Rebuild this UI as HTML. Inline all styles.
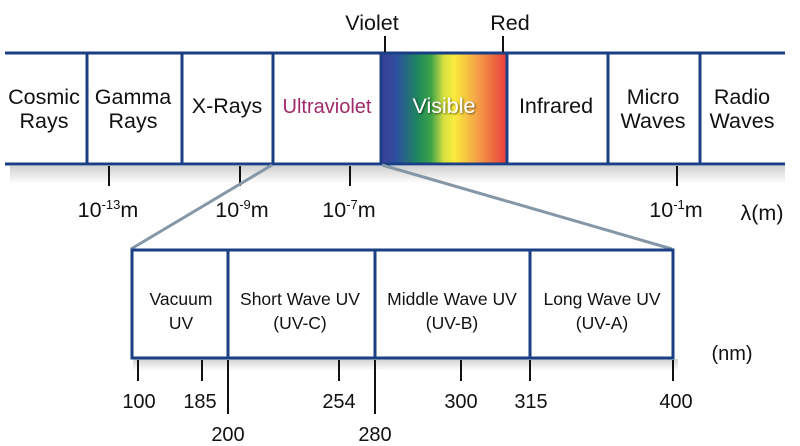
<!DOCTYPE html>
<html><head><meta charset="utf-8"><style>
html,body{margin:0;padding:0;background:#fff;}
svg{display:block;font-family:"Liberation Sans",sans-serif;}
</style></head><body>
<svg width="800" height="446" viewBox="0 0 800 446" xmlns="http://www.w3.org/2000/svg">
<defs>
<linearGradient id="vis" x1="0" x2="1" y1="0" y2="0">
<stop offset="0" stop-color="#3a3e95"/>
<stop offset="0.12" stop-color="#2d4fa0"/>
<stop offset="0.3" stop-color="#1f8a5a"/>
<stop offset="0.4" stop-color="#3fa548"/>
<stop offset="0.5" stop-color="#d8e040"/>
<stop offset="0.58" stop-color="#f9ec3c"/>
<stop offset="0.75" stop-color="#f5a646"/>
<stop offset="1" stop-color="#e83c3c"/>
</linearGradient>
<linearGradient id="sh" x1="0" x2="0" y1="0" y2="1">
<stop offset="0" stop-color="#000" stop-opacity="0.18"/>
<stop offset="1" stop-color="#000" stop-opacity="0"/>
</linearGradient>
<filter id="ts"><feDropShadow dx="1" dy="1" stdDeviation="1" flood-color="#000" flood-opacity="0.6"/></filter>
</defs>
<rect x="10" y="166" width="775" height="18" fill="url(#sh)"/>
<rect x="133" y="359" width="545" height="12" fill="url(#sh)"/>
<rect x="381" y="53" width="126" height="110" fill="url(#vis)"/>
<g stroke="#1a3f85" stroke-width="3" fill="none">
<line x1="5" y1="53" x2="785" y2="53"/>
<line x1="5" y1="164" x2="785" y2="164"/>
<line x1="87" y1="53" x2="87" y2="164"/>
<line x1="182" y1="53" x2="182" y2="164"/>
<line x1="273" y1="53" x2="273" y2="164"/>
<line x1="381" y1="53" x2="381" y2="164"/>
<line x1="507" y1="53" x2="507" y2="164"/>
<line x1="608" y1="53" x2="608" y2="164"/>
<line x1="700" y1="53" x2="700" y2="164"/>
</g>
<g stroke="#111" stroke-width="2">
<line x1="385" y1="36" x2="385" y2="52"/>
<line x1="503" y1="36" x2="503" y2="52"/>
<line x1="109" y1="166" x2="109" y2="186"/>
<line x1="240" y1="166" x2="240" y2="186"/>
<line x1="350" y1="166" x2="350" y2="186"/>
<line x1="677" y1="166" x2="677" y2="186"/>
</g>
<g stroke="#8597a6" stroke-width="3">
<line x1="272" y1="165" x2="131" y2="249"/>
<line x1="382" y1="165" x2="672" y2="249"/>
</g>
<g font-size="21.5" fill="#111" text-anchor="middle">
<text x="372" y="30">Violet</text>
<text x="510" y="30">Red</text>
<text x="44" y="104">Cosmic</text><text x="44" y="128">Rays</text>
<text x="133" y="104">Gamma</text><text x="133" y="128">Rays</text>
<text x="227" y="113">X-Rays</text>
<text x="327" y="113" fill="#a02a6a" font-size="20">Ultraviolet</text>
<text x="444" y="113" fill="#fff" filter="url(#ts)">Visible</text>
<text x="556" y="113">Infrared</text>
<text x="653" y="104">Micro</text><text x="653" y="128">Waves</text>
<text x="742" y="104">Radio</text><text x="742" y="128">Waves</text>
<text x="108" y="217">10<tspan font-size="13" dy="-8">-13</tspan><tspan dy="8">m</tspan></text>
<text x="242" y="217">10<tspan font-size="13" dy="-8">-9</tspan><tspan dy="8">m</tspan></text>
<text x="349" y="217">10<tspan font-size="13" dy="-8">-7</tspan><tspan dy="8">m</tspan></text>
<text x="676" y="217">10<tspan font-size="13" dy="-8">-1</tspan><tspan dy="8">m</tspan></text>
<text x="762" y="220">λ(m)</text>
</g>
<rect x="132" y="250" width="541" height="108" fill="#fff" stroke="#1a3f85" stroke-width="3"/>
<g stroke="#1a3f85" stroke-width="3">
<line x1="228" y1="250" x2="228" y2="358"/>
<line x1="375" y1="250" x2="375" y2="358"/>
<line x1="530" y1="250" x2="530" y2="358"/>
</g>
<g stroke="#111" stroke-width="2">
<line x1="138" y1="360" x2="138" y2="381"/>
<line x1="202" y1="360" x2="202" y2="381"/>
<line x1="228" y1="360" x2="228" y2="414"/>
<line x1="339" y1="360" x2="339" y2="381"/>
<line x1="375" y1="360" x2="375" y2="414"/>
<line x1="461" y1="360" x2="461" y2="381"/>
<line x1="530" y1="360" x2="530" y2="381"/>
<line x1="673" y1="360" x2="673" y2="381"/>
</g>
<g font-size="17.5" fill="#111" text-anchor="middle">
<text x="181" y="305">Vacuum</text><text x="181" y="329">UV</text>
<text x="300" y="305">Short Wave UV</text><text x="300" y="329">(UV-C)</text>
<text x="452" y="305">Middle Wave UV</text><text x="452" y="329">(UV-B)</text>
<text x="602" y="305">Long Wave UV</text><text x="602" y="329">(UV-A)</text>
</g>
<g font-size="20" fill="#111" text-anchor="middle">
<text x="732" y="360">(nm)</text>
<text x="139" y="408">100</text>
<text x="200" y="408">185</text>
<text x="339" y="408">254</text>
<text x="461" y="408">300</text>
<text x="531" y="408">315</text>
<text x="676" y="408">400</text>
<text x="228" y="441">200</text>
<text x="375" y="441">280</text>
</g>
</svg>
</body></html>
